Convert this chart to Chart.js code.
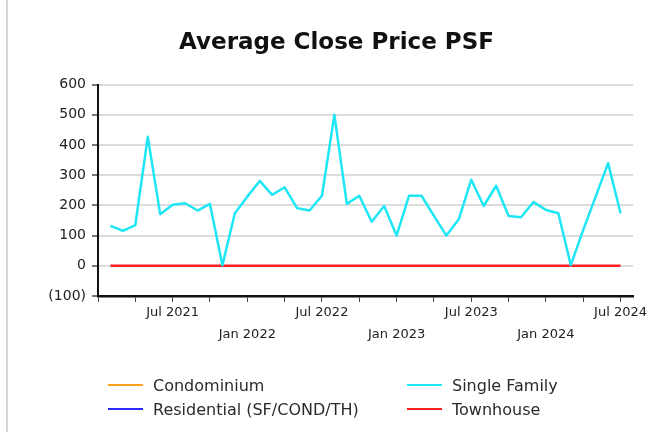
<!DOCTYPE html>
<html>
<head>
<meta charset="utf-8">
<script src="https://cdn.jsdelivr.net/npm/chart.js@4/dist/chart.umd.min.js"></script>
<style>
  body { margin: 0; background: #fff; }
  #wrap { position: relative; width: 662px; height: 441px; }
  #edge { position: absolute; left: 6px; top: 0; width: 2px; height: 432px; background: #d4d4d4; }
  #legend {
    position: absolute; left: 108px; top: 373px;
    display: grid; grid-template-columns: 299px auto; grid-template-rows: 24px 24px;
    grid-auto-flow: column;
    font: 16px 'DejaVu Sans', sans-serif; color: #2b2b2b;
  }
  .item { display: flex; align-items: center; white-space: nowrap; }
  .swatch { width: 35px; height: 2.5px; margin-right: 10px; }
</style>
</head>
<body>
<div id="wrap">
  <div id="edge"></div>
  <canvas id="myChart" width="662" height="441"></canvas>
  <div id="legend"></div>
</div>
<script>
// monthly points, Feb 2021 .. Jul 2024
const months = [
  '2021-02', '2021-03', '2021-04', '2021-05', '2021-06', '2021-07', '2021-08', '2021-09', '2021-10', '2021-11', '2021-12',
  '2022-01', '2022-02', '2022-03', '2022-04', '2022-05', '2022-06', '2022-07', '2022-08', '2022-09', '2022-10', '2022-11', '2022-12',
  '2023-01', '2023-02', '2023-03', '2023-04', '2023-05', '2023-06', '2023-07', '2023-08', '2023-09', '2023-10', '2023-11', '2023-12',
  '2024-01', '2024-02', '2024-03', '2024-04', '2024-05', '2024-06', '2024-07'
]
const condominium = []
const residential = []
const singleFamily = [
  132, 116, 135, 427, 171, 202, 207, 183, 205, 2, 174,
  229, 281, 235, 260, 191, 183, 232, 500, 205, 232, 146, 198,
  100, 232, 232, 165, 100, 154, 285, 198, 265, 165, 161, 211,
  185, 174, 2, 119, 229, 340, 174
]
const townhouse = months.map(() => 0)

const yTicks = [-100, 0, 100, 200, 300, 400, 500, 600]
const seriesNames = ['Condominium', 'Residential (SF/COND/TH)', 'Single Family', 'Townhouse']
const seriesColors = ['#ffa31a', '#2a2aff', '#1fe6f5', '#ff2121']

// month index from Jan 2021
const monthIndex = s => (parseInt(s.slice(0, 4)) - 2021) * 12 + parseInt(s.slice(5)) - 1
const toPoints = vals => vals.map((v, i) => ({ x: monthIndex(months[i]), y: v }))

const seriesData = [condominium, residential, singleFamily, townhouse]

const data = {
  datasets: seriesNames.map((name, i) => ({
    label: name,
    data: toPoints(seriesData[i]),
    borderColor: seriesColors[i],
    backgroundColor: seriesColors[i],
    borderWidth: 2.5,
    borderJoinStyle: 'round',
    pointRadius: 0,
    tension: 0
  }))
}

const config = {
  type: 'line',
  data,
  options: {
    responsive: false,
    animation: false,
    layout: { padding: { left: 40, right: 29, top: 1, bottom: 85 } },
    plugins: {
      legend: { display: false },
      tooltip: { enabled: false },
      title: {
        display: true,
        text: 'Average Close Price PSF',
        color: '#111',
        font: { family: 'DejaVu Sans', size: 23, weight: 'bold' },
        padding: { top: 28, bottom: 28 }
      }
    },
    scales: {
      x: {
        type: 'linear',
        min: 0,
        max: 43,
        afterBuildTicks: scale => {
          const t = []
          for (let v = 0; v <= 42; v += 3) t.push({ value: v })
          scale.ticks = t
        },
        afterFit: scale => { scale.height = 60 },
        grid: { drawOnChartArea: false, drawTicks: true, tickLength: 6, tickColor: '#444', lineWidth: 1 },
        border: { color: '#111', width: 2.5 },
        ticks: {
          autoSkip: false,
          maxRotation: 0,
          padding: 0,
          color: '#222',
          font: { family: 'DejaVu Sans', size: 13, lineHeight: 1.65 },
          callback: v => {
            const yr = 2021 + Math.floor(v / 12), m = v % 12
            if (m === 6) return 'Jul ' + yr
            if (m === 0 && v > 0) return ['', 'Jan ' + yr]
            return ''
          }
        }
      },
      y: {
        min: -100,
        max: 600,
        afterBuildTicks: scale => { scale.ticks = yTicks.map(v => ({ value: v })) },
        afterFit: scale => { scale.width = 58 },
        grid: { color: '#dcdcdc', lineWidth: 2, tickColor: '#777', tickLength: 6 },
        border: { color: '#111', width: 2 },
        ticks: {
          padding: 6,
          color: '#222',
          font: { family: 'DejaVu Sans', size: 14 },
          callback: v => v < 0 ? '(' + Math.abs(v) + ')' : String(v)
        }
      }
    }
  }
}

const myChart = new Chart(document.getElementById('myChart'), config)

// html legend, two columns
const legendEl = document.getElementById('legend')
myChart.data.datasets.forEach(ds => {
  const item = document.createElement('div')
  item.className = 'item'
  const sw = document.createElement('span')
  sw.className = 'swatch'
  sw.style.background = ds.borderColor
  item.appendChild(sw)
  item.appendChild(document.createTextNode(ds.label))
  legendEl.appendChild(item)
})
</script>
</body>
</html>
